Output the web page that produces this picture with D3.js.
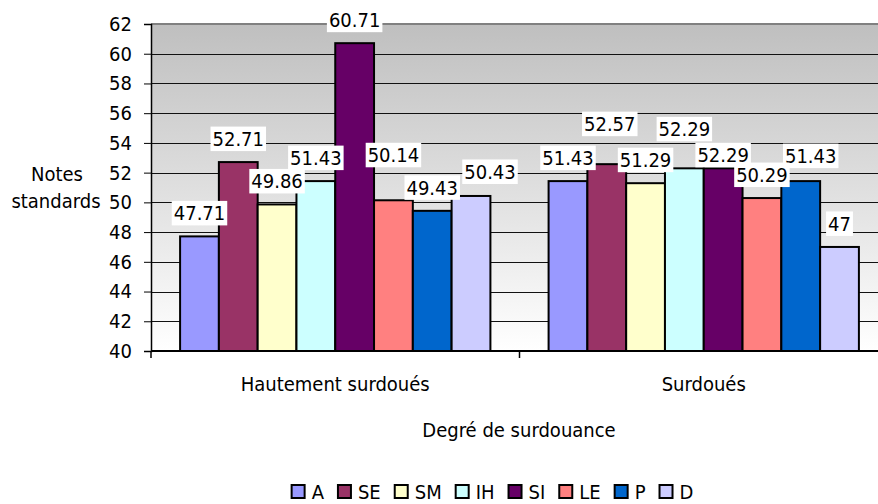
<!DOCTYPE html>
<html>
<head>
<meta charset="utf-8">
<script src="https://cdn.jsdelivr.net/npm/d3@7/dist/d3.min.js"></script>
<style>
  html, body { margin: 0; padding: 0; background: #ffffff; }
  svg { display: block; }
  text { font-family: 'DejaVu Sans Condensed', 'DejaVu Sans', sans-serif; font-stretch: condensed; fill: #000; }
</style>
</head>
<body>
<svg id="chart" width="878" height="504"></svg>
<script>
// Standard scores per giftedness level, one value per sub-scale
const categories = ["Hautement surdoués", "Surdoués"];
const seriesNames = ["A", "SE", "SM", "IH", "SI", "LE", "P", "D"];
const valuesHautement = [47.71, 52.71, 49.86, 51.43, 60.71, 50.14, 49.43, 50.43];
const valuesSurdoues = [51.43, 52.57, 51.29, 52.29, 52.29, 50.29, 51.43, 47];
const yTickValues = [40, 42, 44, 46, 48, 50, 52, 54, 56, 58, 60, 62];
const seriesColors = ["#9999FF", "#993366", "#FFFFCC", "#CCFFFF", "#660066", "#FF8080", "#0066CC", "#CCCCFF"];

// Hand-placed label nudges [dx, dy] in pixels, per category then series
const labelNudgeHautement = [[0, 0], [0, 0], [0, 0], [0, 0], [0, 0], [0, -22], [0, 0], [19, -1]];
const labelNudgeSurdoues = [[0, 0], [3, -17], [0, 0], [0, -16], [0, 10], [0, 0], [10, -2], [0, 0]];

const values = [valuesHautement, valuesSurdoues];
const nudges = [labelNudgeHautement, labelNudgeSurdoues];

const svg = d3.select("#chart");
const plot = { left: 151, right: 888, top: 24, bottom: 351 };

const y = d3.scaleLinear().domain([40, 62]).range([plot.bottom, plot.top]);
const x0 = d3.scaleBand().domain(categories).range([plot.left, plot.right]).padding(0);
const x1 = d3.scaleBand().domain(seriesNames).range([0, x0.bandwidth()])
  .paddingInner(0).paddingOuter(0.75);
const color = d3.scaleOrdinal().domain(seriesNames).range(seriesColors);

// Plot background gradient
const defs = svg.append("defs");
const grad = defs.append("linearGradient").attr("id", "bg")
  .attr("x1", 0).attr("y1", 0).attr("x2", 0).attr("y2", 1);
grad.append("stop").attr("offset", "0%").attr("stop-color", "#bfbfbf");
grad.append("stop").attr("offset", "100%").attr("stop-color", "#ffffff");

svg.append("rect")
  .attr("x", plot.left).attr("y", plot.top)
  .attr("width", plot.right - plot.left).attr("height", plot.bottom - plot.top)
  .attr("fill", "url(#bg)");

// Horizontal gridlines
svg.append("g").selectAll("line")
  .data(yTickValues.filter(v => v > 40 && v < 62))
  .join("line")
  .attr("x1", plot.left).attr("x2", plot.right)
  .attr("y1", d => Math.round(y(d)) + 0.5).attr("y2", d => Math.round(y(d)) + 0.5)
  .attr("stroke", "#111").attr("stroke-width", 1);

// Top border of the plot area
svg.append("line")
  .attr("x1", plot.left).attr("x2", plot.right)
  .attr("y1", y(62)).attr("y2", y(62))
  .attr("stroke", "#808080").attr("stroke-width", 2);

// Bars
const groups = svg.append("g").selectAll("g")
  .data(categories)
  .join("g")
  .attr("transform", d => `translate(${x0(d)},0)`);

groups.selectAll("rect")
  .data((c, ci) => seriesNames.map((s, si) => ({ s, v: values[ci][si] })))
  .join("rect")
  .attr("x", d => x1(d.s))
  .attr("y", d => y(d.v))
  .attr("width", x1.bandwidth())
  .attr("height", d => y(40) - y(d.v))
  .attr("fill", d => color(d.s))
  .attr("stroke", "#000")
  .attr("stroke-width", 2);

// Y axis
const yAxis = d3.axisLeft(y).tickValues(yTickValues).tickSize(7).tickPadding(12)
  .tickFormat(d3.format("d"));
const gy = svg.append("g").attr("transform", `translate(${plot.left},0)`).call(yAxis);
gy.select(".domain").attr("stroke", "#000").attr("stroke-width", 1.5);
gy.selectAll(".tick line").attr("stroke", "#000");
gy.selectAll(".tick text").attr("font-size", 20)
  .style("font-family", "'DejaVu Sans Condensed', 'DejaVu Sans', sans-serif");

// X axis line with band-edge ticks
const gx = svg.append("g");
gx.append("line")
  .attr("x1", plot.left).attr("x2", plot.right)
  .attr("y1", plot.bottom).attr("y2", plot.bottom)
  .attr("stroke", "#000").attr("stroke-width", 2);
const edges = categories.map(c => x0(c)).concat([x0(categories[categories.length - 1]) + x0.bandwidth()]);
gx.selectAll("line.edge")
  .data(edges)
  .join("line")
  .attr("class", "edge")
  .attr("x1", d => d).attr("x2", d => d)
  .attr("y1", plot.bottom).attr("y2", plot.bottom + 7)
  .attr("stroke", "#000").attr("stroke-width", 1.5);
gx.selectAll("text.cat")
  .data(categories)
  .join("text")
  .attr("class", "cat")
  .attr("x", d => x0(d) + x0.bandwidth() / 2)
  .attr("y", 391)
  .attr("text-anchor", "middle")
  .attr("font-size", 20)
  .text(d => d);

// Axis titles
svg.append("text")
  .attr("x", (plot.left + plot.right) / 2 - 0.5).attr("y", 437)
  .attr("text-anchor", "middle").attr("font-size", 20)
  .text("Degré de surdouance");

const yTitle = svg.append("text").attr("text-anchor", "middle").attr("font-size", 20);
yTitle.append("tspan").attr("x", 57).attr("y", 181).text("Notes");
yTitle.append("tspan").attr("x", 56).attr("y", 208).text("standards");

// Data labels in white boxes (later series drawn first)
const labelLayer = svg.append("g");
categories.forEach((c, ci) => {
  const order = d3.range(seriesNames.length).reverse();
  order.forEach(si => {
    const v = values[ci][si];
    const s = seriesNames[si];
    const [dx, dy] = nudges[ci][si];
    const cx = x0(c) + x1(s) + x1.bandwidth() / 2 + dx;
    const base = y(v) - 16 + dy;
    const g = labelLayer.append("g");
    const box = g.append("rect").attr("fill", "#ffffff");
    const t = g.append("text")
      .attr("x", cx).attr("y", base)
      .attr("text-anchor", "middle").attr("font-size", 20)
      .text(String(v));
    const w = t.node().getComputedTextLength();
    box.attr("x", cx - w / 2 - 2).attr("y", base - 19.5)
      .attr("width", w + 4).attr("height", 24.5);
  });
});

// Legend
const legend = svg.append("g");
let lx = 0;
seriesNames.forEach((s, i) => {
  const g = legend.append("g");
  g.append("rect")
    .attr("x", lx + 1).attr("y", 485)
    .attr("width", 13).attr("height", 13)
    .attr("fill", seriesColors[i])
    .attr("stroke", "#000").attr("stroke-width", 2);
  const t = g.append("text")
    .attr("x", lx + 21).attr("y", 499)
    .attr("font-size", 20)
    .text(s);
  const w = t.node().getComputedTextLength();
  lx += 21 + w + (i < seriesNames.length - 1 ? 13 : 0);
});
legend.attr("transform", `translate(${492 - lx / 2},0)`);
</script>
</body>
</html>
